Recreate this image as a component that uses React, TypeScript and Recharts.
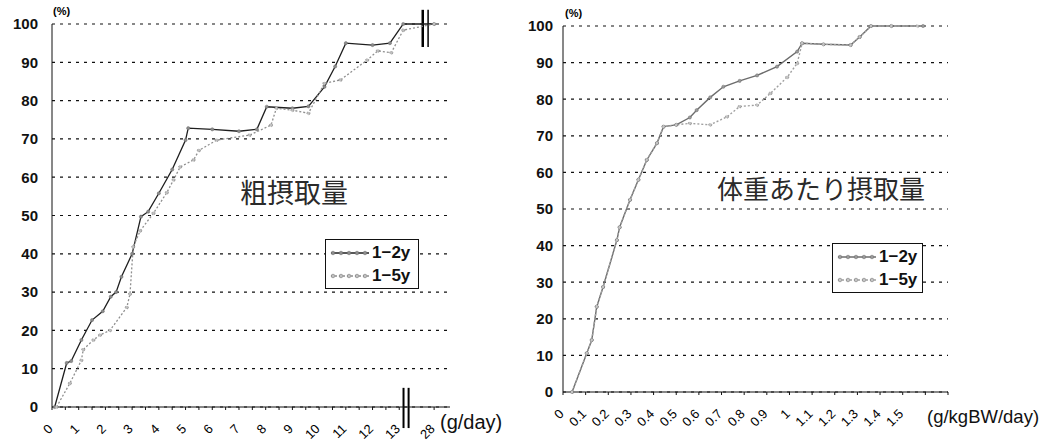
import React from "react";
import {
  CartesianGrid,
  Legend,
  Line,
  LineChart,
  ReferenceLine,
  XAxis,
  YAxis,
} from "recharts";

// 粗摂取量 (g/day) - cumulative %
const grossX12 = [0.1, 0.55, 0.72, 1.1, 1.5, 1.9, 2.2, 2.4, 2.6, 3.0, 3.33, 3.6, 4.0, 4.5, 5.0, 5.1, 6.0, 7.0, 7.67, 8.04, 9.0, 9.6, 10.2, 10.6, 11.0, 12.0, 12.65, 13.15, 28];
const grossY12 = [0, 11.5, 12, 17.5, 22.7, 25, 28.8, 30, 34, 40, 49.7, 51, 55.8, 62, 69.7, 72.8, 72.5, 72, 72.5, 78.4, 78, 78.5, 83.6, 88.9, 95, 94.5, 95, 100, 100];
const grossX15 = [0.17, 0.67, 1.1, 1.17, 1.55, 1.8, 2.17, 2.8, 2.92, 3.04, 3.3, 3.8, 4.3, 4.55, 4.8, 5.3, 5.5, 6.17, 7.4, 8.2, 8.4, 9.0, 9.6, 10.2, 10.8, 11.8, 12.2, 12.7, 13.15, 28];
const grossY15 = [0, 6.2, 12.2, 15, 17.5, 18.8, 20, 26, 29.5, 41.8, 46, 50.6, 56, 59.3, 62.7, 64.5, 67, 69.7, 71, 73.6, 78, 77.5, 76.7, 84.5, 85.4, 90.6, 93, 92.5, 98.4, 100];

// 体重あたり摂取量 (g/kgBW/day)
const bwX12 = [0.04, 0.105, 0.127, 0.149, 0.177, 0.238, 0.25, 0.296, 0.333, 0.37, 0.415, 0.444, 0.5, 0.56, 0.59, 0.65, 0.708, 0.78, 0.857, 0.945, 1.034, 1.056, 1.15, 1.27, 1.31, 1.36, 1.45, 1.59];
const bwY12 = [0, 10.6, 14.2, 23.3, 28.7, 41.5, 45, 52.5, 58, 63.4, 68, 72.5, 73, 75, 77, 80.5, 83.4, 85, 86.5, 88.9, 93, 95.3, 95, 94.8, 97, 100, 100, 100];
const bwX15 = [0.04, 0.105, 0.127, 0.149, 0.177, 0.238, 0.25, 0.296, 0.333, 0.37, 0.415, 0.444, 0.5, 0.56, 0.65, 0.724, 0.78, 0.857, 0.916, 0.99, 1.034, 1.056, 1.15, 1.27, 1.31, 1.36, 1.45, 1.565];
const bwY15 = [0, 10.6, 14.2, 23.3, 28.7, 41.5, 45, 52.5, 58, 63.4, 68, 72.5, 73, 73.4, 73, 75.2, 78, 78.4, 81.6, 86, 89.8, 95.3, 95, 94.8, 97, 100, 100, 100];

const yTicks = [0, 10, 20, 30, 40, 50, 60, 70, 80, 90, 100];
const grossTickLabels = ["0", "1", "2", "3", "4", "5", "6", "7", "8", "9", "10", "11", "12", "13", "28"];
const bwTickLabels = ["0", "0.1", "0.2", "0.3", "0.4", "0.5", "0.6", "0.7", "0.8", "0.9", "1", "1.1", "1.2", "1.3", "1.4", "1.5"];
const seriesNames = ["1−2y", "1−5y"];

// axis break after 13: everything beyond is squeezed
const BREAK = 13.5;
const pos = (v: number) => (v <= BREAK ? v : BREAK + (v - BREAK) / 18);

const toPoints = (xs: number[], ys: number[], f = (v: number) => v) =>
  xs.map((x, i) => ({ x: f(x), y: ys[i] }));

const grossTicks: number[] = [];
for (let i = 0; i <= 26; i++) grossTicks.push(i / 2);
grossTicks.push(pos(28));
const grossFmt = (v: number) => {
  const i = grossTickLabels.findIndex((l) => Math.abs(pos(Number(l)) - v) < 0.01);
  return i >= 0 ? grossTickLabels[i] : "";
};

const bwTicks = [...bwTickLabels.map(Number), 1.6, 1.7];
const bwFmt = (v: number) => {
  const i = bwTickLabels.findIndex((l) => Math.abs(Number(l) - v) < 0.001);
  return i >= 0 ? bwTickLabels[i] : "";
};

const FONT = "'Liberation Sans', Arial, sans-serif";
const CJK = "'Noto Sans CJK JP', sans-serif";

const styles = [
  { stroke: "#1e1e1e", dash: undefined, dot: "#8c8c8c" },
  { stroke: "#8f8f8f", dash: "2 2", dot: "#c0c0c0" },
];
const bwStyles = [
  { stroke: "#6c6c6c", dash: undefined, dot: "#9a9a9a" },
  { stroke: "#a0a0a0", dash: "2 2", dot: "#c4c4c4" },
];

function LegendBox({ width, lines }: { width: number; lines: typeof styles }) {
  return (
    <div
      style={{
        width,
        border: "1.5px solid #111",
        background: "#fff",
        boxSizing: "border-box",
        padding: "1px 0",
      }}
    >
      {seriesNames.map((name, i) => (
        <div key={name} style={{ display: "flex", alignItems: "center", height: 23 }}>
          <svg width={42} height={10} style={{ marginLeft: 3 }}>
            <line x1={2} y1={5} x2={40} y2={5} stroke={lines[i].stroke} strokeWidth={1.5} strokeDasharray={lines[i].dash} />
            {[4, 12, 20, 28, 36].map((cx) => (
              <circle key={cx} cx={cx} cy={5} r={1.8} fill={lines[i].dot} stroke="#666" strokeWidth={0.5} />
            ))}
          </svg>
          <span style={{ fontFamily: FONT, fontWeight: "bold", fontSize: 17, color: "#111", marginLeft: 1 }}>
            {name}
          </span>
        </div>
      ))}
    </div>
  );
}

const dotOf = (fill: string) => ({ r: 1.6, fill, stroke: "#6a6a6a", strokeWidth: 0.5 });

export default function App() {
  const gross12 = toPoints(grossX12, grossY12, pos);
  const gross15 = toPoints(grossX15, grossY15, pos);
  const bw12 = toPoints(bwX12, bwY12);
  const bw15 = toPoints(bwX15, bwY15);

  const tickStyleY = { fontFamily: FONT, fontSize: 15, fontWeight: "bold", fill: "#111" };
  const tickStyleX = { fontFamily: FONT, fontSize: 13, fill: "#000", dx: -5 };

  return (
    <div style={{ position: "absolute", left: 0, top: 0, width: 1053, height: 443, background: "#fff", overflow: "hidden" }}>
      {/* left: 粗摂取量 */}
      <div style={{ position: "absolute", left: 0, top: 0 }}>
        <LineChart width={500} height={443} margin={{ top: 24, right: 50, left: 0, bottom: 0 }}>
          <CartesianGrid vertical={false} stroke="#111" strokeDasharray="3 5" strokeWidth={1.2} />
          <XAxis
            dataKey="x"
            type="number"
            domain={[0, 14.9]}
            ticks={grossTicks}
            tickFormatter={grossFmt}
            interval={0}
            height={36}
            angle={-45}
            textAnchor="end"
            tick={tickStyleX}
            tickSize={3}
            tickMargin={13}
            stroke="#111"
            allowDataOverflow
          />
          <YAxis
            type="number"
            domain={[0, 100]}
            ticks={yTicks}
            width={52}
            tick={tickStyleY}
            tickSize={0}
            tickMargin={14}
            stroke="#111"
          />
          <ReferenceLine segment={[{ x: 13.16, y: 5 }, { x: 13.16, y: -5.5 }]} stroke="#000" strokeWidth={2} ifOverflow="visible" />
          <ReferenceLine segment={[{ x: 13.35, y: 5 }, { x: 13.35, y: -5.5 }]} stroke="#000" strokeWidth={2} ifOverflow="visible" />
          <ReferenceLine segment={[{ x: 13.88, y: 103.7 }, { x: 13.88, y: 94 }]} stroke="#000" strokeWidth={2.5} ifOverflow="visible" />
          <ReferenceLine segment={[{ x: 14.08, y: 103.7 }, { x: 14.08, y: 94 }]} stroke="#000" strokeWidth={1.5} ifOverflow="visible" />
          {[gross12, gross15].map((d, i) => (
            <Line
              key={seriesNames[i]}
              data={d}
              dataKey="y"
              name={seriesNames[i]}
              type="linear"
              stroke={styles[i].stroke}
              strokeWidth={1.3}
              strokeDasharray={styles[i].dash}
              dot={dotOf(styles[i].dot)}
              isAnimationActive={false}
            />
          ))}
          <Legend
            layout="vertical"
            align="center"
            verticalAlign="middle"
            content={() => <LegendBox width={94} lines={styles} />}
            wrapperStyle={{ left: 325, top: 239, width: 94 }}
          />
        </LineChart>
        <div style={{ position: "absolute", left: 53, top: 5, fontFamily: FONT, fontSize: 11, fontWeight: "bold" }}>(%)</div>
        <div style={{ position: "absolute", left: 240, top: 176, fontFamily: CJK, fontSize: 27, color: "#2a2a2a", lineHeight: 1.2 }}>
          粗摂取量
        </div>
      </div>
      <div style={{ position: "absolute", left: 440, top: 411, fontFamily: FONT, fontSize: 20, color: "#111" }}>(g/day)</div>

      {/* right: 体重あたり摂取量 */}
      <div style={{ position: "absolute", left: 520, top: 0 }}>
        <LineChart width={533} height={443} margin={{ top: 26, right: 105, left: 0, bottom: 0 }}>
          <CartesianGrid vertical={false} stroke="#111" strokeDasharray="3 5" strokeWidth={1.2} />
          <XAxis
            dataKey="x"
            type="number"
            domain={[0, 1.7]}
            ticks={bwTicks}
            tickFormatter={bwFmt}
            interval={0}
            height={51}
            angle={-45}
            textAnchor="end"
            tick={tickStyleX}
            tickSize={3}
            tickMargin={13}
            stroke="#111"
          />
          <YAxis
            type="number"
            domain={[0, 100]}
            ticks={yTicks}
            width={43}
            tick={tickStyleY}
            tickSize={0}
            tickMargin={10}
            stroke="#111"
          />
          {[bw12, bw15].map((d, i) => (
            <Line
              key={seriesNames[i]}
              data={d}
              dataKey="y"
              name={seriesNames[i]}
              type="linear"
              stroke={bwStyles[i].stroke}
              strokeWidth={1.4}
              strokeDasharray={bwStyles[i].dash}
              dot={dotOf(bwStyles[i].dot)}
              isAnimationActive={false}
            />
          ))}
          <Legend
            layout="vertical"
            align="center"
            verticalAlign="middle"
            content={() => <LegendBox width={91} lines={bwStyles} />}
            wrapperStyle={{ left: 312, top: 243, width: 91 }}
          />
        </LineChart>
        <div style={{ position: "absolute", left: 45, top: 7, fontFamily: FONT, fontSize: 11, fontWeight: "bold" }}>(%)</div>
        <div style={{ position: "absolute", left: 197, top: 172, fontFamily: CJK, fontSize: 26, color: "#2a2a2a", lineHeight: 1.2 }}>
          体重あたり摂取量
        </div>
      </div>
      <div style={{ position: "absolute", left: 927, top: 406, fontFamily: FONT, fontSize: 18.5, color: "#111" }}>(g/kgBW/day)</div>
    </div>
  );
}
